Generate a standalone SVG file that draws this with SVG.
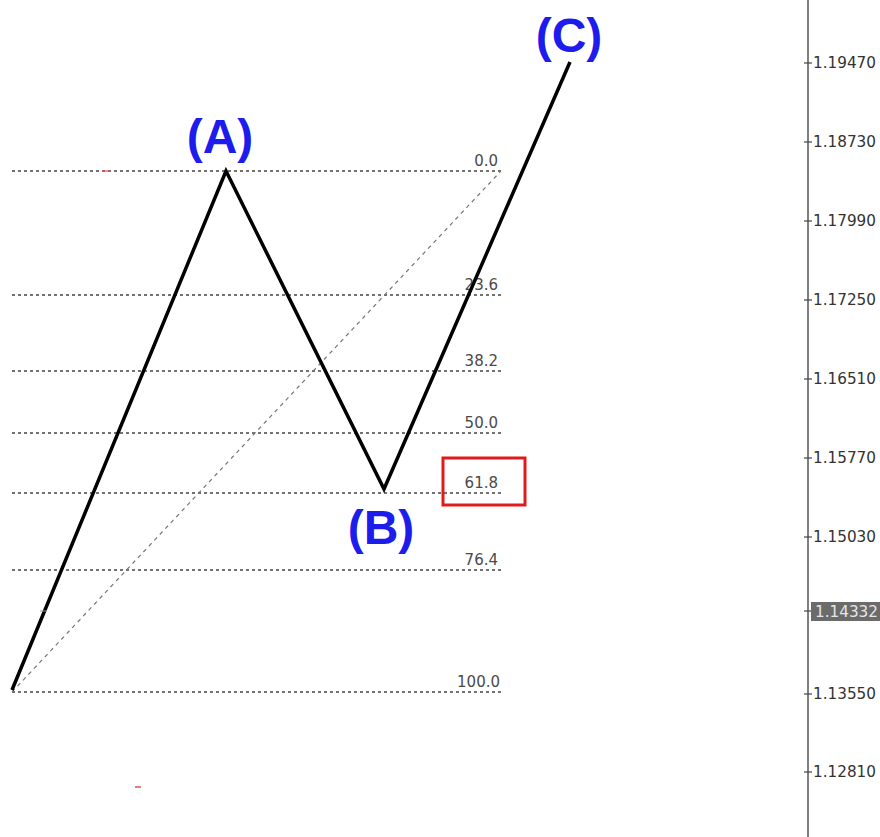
<svg xmlns="http://www.w3.org/2000/svg" width="880" height="837" viewBox="0 0 880 837">
<style>
.lvl{stroke:#444;stroke-width:1.5;stroke-dasharray:3 3;fill:none}
.fib{font-family:"DejaVu Sans",sans-serif;font-size:15px;fill:#4a4a4a;text-anchor:end}
.ax{font-family:"DejaVu Sans",sans-serif;font-size:15px;fill:#333}
.tick{stroke:#444;stroke-width:1.2}
.wave{font-family:"Liberation Sans",Arial,sans-serif;font-weight:bold;font-size:48px;fill:#1c1cec;text-anchor:middle}
</style>
<rect width="880" height="837" fill="#fff"/>
<g id="fib-levels">
<line class="lvl" x1="12" y1="171" x2="502" y2="171"/>
<line class="lvl" x1="12" y1="295" x2="502" y2="295"/>
<line class="lvl" x1="12" y1="371" x2="502" y2="371"/>
<line class="lvl" x1="12" y1="433" x2="502" y2="433"/>
<line class="lvl" x1="12" y1="493" x2="502" y2="493"/>
<line class="lvl" x1="12" y1="570" x2="502" y2="570"/>
<line class="lvl" x1="12" y1="692" x2="502" y2="692"/>
<text class="fib" x="498" y="166">0.0</text>
<text class="fib" x="498" y="290">23.6</text>
<text class="fib" x="498" y="366">38.2</text>
<text class="fib" x="498" y="428">50.0</text>
<text class="fib" x="498" y="488">61.8</text>
<text class="fib" x="498" y="565">76.4</text>
<text class="fib" x="500" y="687">100.0</text>
</g>
<g id="connectors">
<line x1="12" y1="692" x2="500" y2="172" stroke="#777" stroke-width="1.2" stroke-dasharray="4 4"/>
<polyline points="12,690 226,171 384,489 570,62" fill="none" stroke="#000" stroke-width="3.5" stroke-linejoin="miter"/>
</g>
<g id="marks">
<line x1="102" y1="171" x2="110" y2="171" stroke="#e05050" stroke-width="1.2"/>
<line x1="135" y1="787" x2="141" y2="787" stroke="#e05050" stroke-width="1.5"/>
<line x1="40" y1="611" x2="47" y2="611" stroke="#999" stroke-width="1"/>
</g>
<g id="node-A"><text class="wave" x="220" y="153">(A)</text></g>
<g id="node-B"><text class="wave" x="381" y="544">(B)</text></g>
<g id="node-C"><text class="wave" x="569" y="52">(C)</text></g>
<g id="highlight-618"><rect x="443" y="458" width="82" height="47" fill="none" stroke="#e01b1b" stroke-width="3"/></g>
<g id="price-axis">
<line x1="808" y1="0" x2="808" y2="837" stroke="#555" stroke-width="1.5"/>
<line class="tick" x1="804" y1="63" x2="812" y2="63"/>
<line class="tick" x1="804" y1="142" x2="812" y2="142"/>
<line class="tick" x1="804" y1="221" x2="812" y2="221"/>
<line class="tick" x1="804" y1="300" x2="812" y2="300"/>
<line class="tick" x1="804" y1="379" x2="812" y2="379"/>
<line class="tick" x1="804" y1="458" x2="812" y2="458"/>
<line class="tick" x1="804" y1="537" x2="812" y2="537"/>
<line class="tick" x1="804" y1="694" x2="812" y2="694"/>
<line class="tick" x1="804" y1="772" x2="812" y2="772"/>
<line class="tick" x1="804" y1="611" x2="812" y2="611"/>
<text class="ax" x="813" y="68" textLength="63" lengthAdjust="spacingAndGlyphs">1.19470</text>
<text class="ax" x="813" y="147" textLength="63" lengthAdjust="spacingAndGlyphs">1.18730</text>
<text class="ax" x="813" y="226" textLength="63" lengthAdjust="spacingAndGlyphs">1.17990</text>
<text class="ax" x="813" y="305" textLength="63" lengthAdjust="spacingAndGlyphs">1.17250</text>
<text class="ax" x="813" y="384" textLength="63" lengthAdjust="spacingAndGlyphs">1.16510</text>
<text class="ax" x="813" y="463" textLength="63" lengthAdjust="spacingAndGlyphs">1.15770</text>
<text class="ax" x="813" y="542" textLength="63" lengthAdjust="spacingAndGlyphs">1.15030</text>
<text class="ax" x="813" y="699" textLength="63" lengthAdjust="spacingAndGlyphs">1.13550</text>
<text class="ax" x="813" y="777" textLength="63" lengthAdjust="spacingAndGlyphs">1.12810</text>
<rect x="811" y="602" width="69" height="19" fill="#6b6b6b"/>
<text class="ax" x="815" y="617" style="fill:#e6e6e6" textLength="63" lengthAdjust="spacingAndGlyphs">1.14332</text>
</g>
</svg>
